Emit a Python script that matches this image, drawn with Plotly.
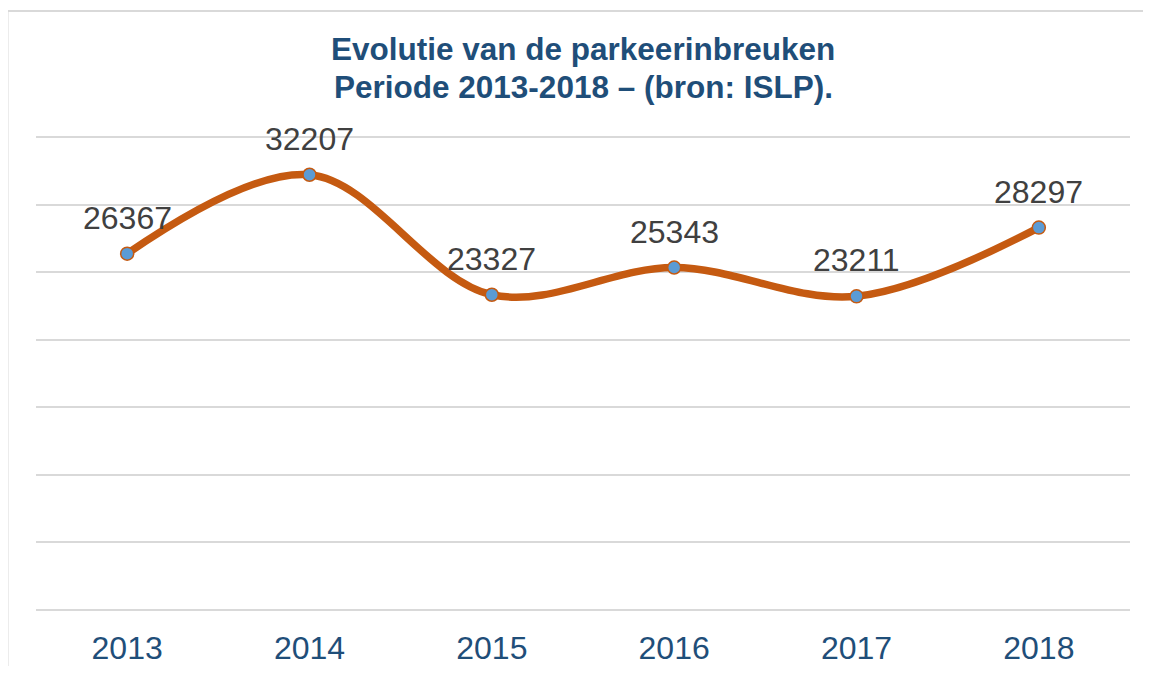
import plotly.graph_objects as go

years = ["2013", "2014", "2015", "2016", "2017", "2018"]
values = [26367, 32207, 23327, 25343, 23211, 28297]
title_lines = ["Evolutie van de parkeerinbreuken", "Periode 2013-2018 – (bron: ISLP)."]

OFF = 8  # page body margin
W, H = 1151 - 2 * OFF, 674 - 2 * OFF
EXT = 3  # extra px above the top gridline so it is drawn
L, T = 36 - OFF, 137 - OFF - EXT
R = W - (1130 - OFF)
B = H - (610 - OFF)
pw, ph = W - L - R, H - T - B
YMAX = 35000 * ph / (ph - EXT)

def px_x(p):
    return (p - OFF - L) / pw

def px_y(p):
    return (H - B - (p - OFF)) / ph

FONT = "Liberation Sans, Arial"

fig = go.Figure()
fig.add_trace(go.Scatter(
    x=years, y=values, mode="lines+markers",
    line=dict(color="#C55A11", width=7.5, shape="spline", smoothing=1),
    marker=dict(size=13, color="#5B9BD5", line=dict(color="#C55A11", width=1.5)),
    cliponaxis=False, hoverinfo="skip",
))
for i, v in enumerate(values):
    fig.add_annotation(x=i, y=v, text=str(v), showarrow=False,
                       xanchor="center", yanchor="middle", yshift=36,
                       font=dict(family=FONT, size=32, color="#404040"))

fig.update_layout(
    width=W, height=H, margin=dict(l=L, r=R, t=T, b=B, autoexpand=False),
    paper_bgcolor="white", plot_bgcolor="white", showlegend=False,
    xaxis=dict(type="category", range=[-0.5, 5.5], showgrid=False, showline=False,
               zeroline=False, ticks="", ticklabelstandoff=16, automargin=False,
               tickfont=dict(family=FONT, size=32, color="#1F4E79")),
    yaxis=dict(range=[0, YMAX], dtick=5000, showticklabels=False, showgrid=True,
               automargin=False,
               gridcolor="#D9D9D9", gridwidth=1.5, zeroline=True, zerolinecolor="#D9D9D9",
               zerolinewidth=1.5, showline=False),
    shapes=[
        dict(type="line", xref="paper", yref="paper",
             x0=px_x(7.5), x1=px_x(7.5), y0=px_y(11), y1=px_y(700),
             line=dict(color="#D9D9D9", width=2)),
        dict(type="line", xref="paper", yref="paper",
             x0=px_x(7.5), x1=px_x(1200), y0=px_y(11), y1=px_y(11),
             line=dict(color="#D9D9D9", width=2)),
    ],
)
for line, cy in zip(title_lines, [49.5, 87.5]):
    fig.add_annotation(text="<b>%s</b>" % line, xref="paper", yref="paper",
                       x=px_x(583), y=px_y(cy), xanchor="center", yanchor="middle",
                       showarrow=False,
                       font=dict(family=FONT, size=31.5, color="#1F4E79"))

fig.write_html("out.html")
